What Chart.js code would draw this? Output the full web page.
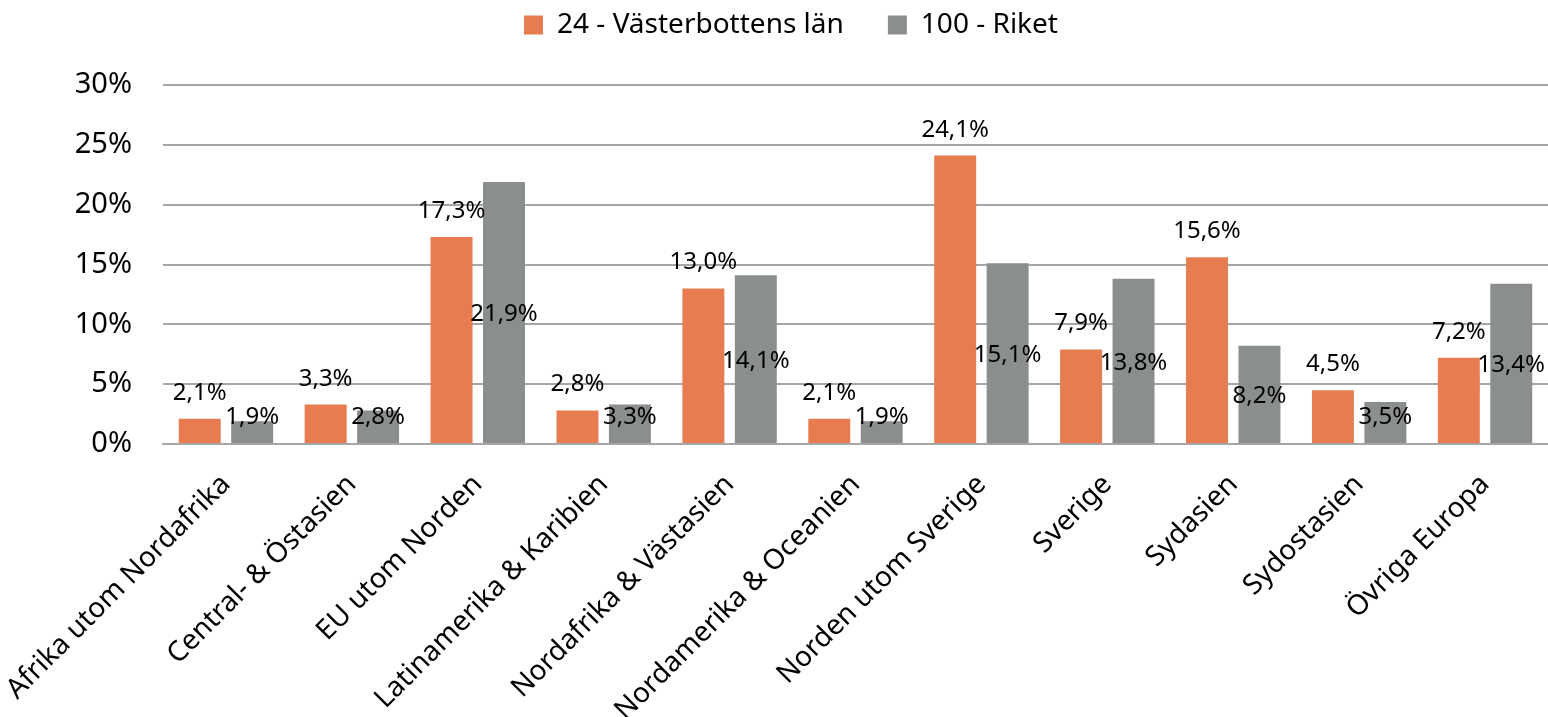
<!DOCTYPE html>
<html>
<head>
<meta charset="utf-8">
<script src="https://cdn.jsdelivr.net/npm/chart.js@4/dist/chart.umd.min.js"></script>
<style>
html,body{margin:0;padding:0;background:#fff;}
canvas{display:block;}
</style>
</head>
<body>
<canvas id="c" width="1548" height="717"></canvas>
<script>
const categories = ["Afrika utom Nordafrika","Central- & Östasien","EU utom Norden","Latinamerika & Karibien","Nordafrika & Västasien","Nordamerika & Oceanien","Norden utom Sverige","Sverige","Sydasien","Sydostasien","Övriga Europa"];
const seriesNames = ["24 - Västerbottens län","100 - Riket"];
const vasterbotten = [2.1,3.3,17.3,2.8,13.0,2.1,24.1,7.9,15.6,4.5,7.2];
const riket = [1.9,2.8,21.9,3.3,14.1,1.9,15.1,13.8,8.2,3.5,13.4];
const yTicks = [0,5,10,15,20,25,30];

const FONT = "'Noto Sans', 'Open Sans', sans-serif";
const fmt = v => v.toFixed(1).replace('.', ',') + '%';

const labelPlugin = {
  id: 'barLabels',
  afterDatasetsDraw(chart) {
    const ctx = chart.ctx;
    ctx.save();
    ctx.font = "24px " + FONT;
    ctx.fillStyle = '#000';
    ctx.textAlign = 'center';
    ctx.textBaseline = 'alphabetic';
    chart.data.datasets.forEach((ds, di) => {
      const meta = chart.getDatasetMeta(di);
      meta.data.forEach((bar, i) => {
        const v = ds.data[i];
        const txt = fmt(v);
        if (di === 0) {
          ctx.fillText(txt, bar.x, bar.y - 19);
        } else {
          const mid = (bar.y + bar.base) / 2;
          const c = Math.min(mid, bar.base - 27.5);
          ctx.fillText(txt, bar.x, c + 8.6);
        }
      });
    });
    ctx.restore();
  }
};

const legendTweakPlugin = {
  id: 'legendTweak',
  afterInit(chart) {
    const lg = chart.legend;
    if (!lg) return;
    const origFit = lg.fit;
    lg.fit = function () { origFit.call(this); this.height = 118; };
    const origDraw = lg.draw;
    lg.draw = function () {
      const ctx = this.ctx;
      ctx.save();
      ctx.translate(17, 0);
      origDraw.call(this);
      ctx.restore();
    };
  }
};

new Chart(document.getElementById('c'), {
  type: 'bar',
  data: {
    labels: categories,
    datasets: [
      { label: seriesNames[0], data: vasterbotten, backgroundColor: '#E67C4F', categoryPercentage: 0.833, barPercentage: 0.8 },
      { label: seriesNames[1], data: riket, backgroundColor: '#8B8F8C', categoryPercentage: 0.833, barPercentage: 0.8 }
    ]
  },
  options: {
    responsive: false,
    animation: false,
    layout: { padding: { top: -33, right: 0, left: 0, bottom: 0 } },
    plugins: {
      tooltip: { enabled: false },
      legend: {
        position: 'top',
        labels: {
          font: { family: FONT, size: 28 },
          color: '#000',
          boxWidth: 19,
          boxHeight: 19,
          padding: 44
        }
      }
    },
    scales: {
      x: {
        grid: { display: false },
        border: { display: true, color: '#A6A6A6', width: 2 },
        ticks: {
          font: { family: FONT, size: 28 },
          color: '#000',
          maxRotation: 45,
          minRotation: 45,
          autoSkip: false,
          padding: 16
        },
        afterFit(s) { s.height = 273; s.paddingLeft = 0; s.paddingRight = 0; }
      },
      y: {
        min: 0,
        max: 30,
        afterBuildTicks(s) { s.ticks = yTicks.map(v => ({ value: v })); },
        grid: { color: '#A6A6A6', lineWidth: 2, drawTicks: false },
        border: { display: false },
        ticks: {
          font: { family: FONT, size: 29 },
          color: '#000',
          padding: 31,
          callback: v => v + '%'
        },
        afterFit(s) { s.width = 163; }
      }
    }
  },
  plugins: [labelPlugin, legendTweakPlugin]
});
</script>
</body>
</html>
